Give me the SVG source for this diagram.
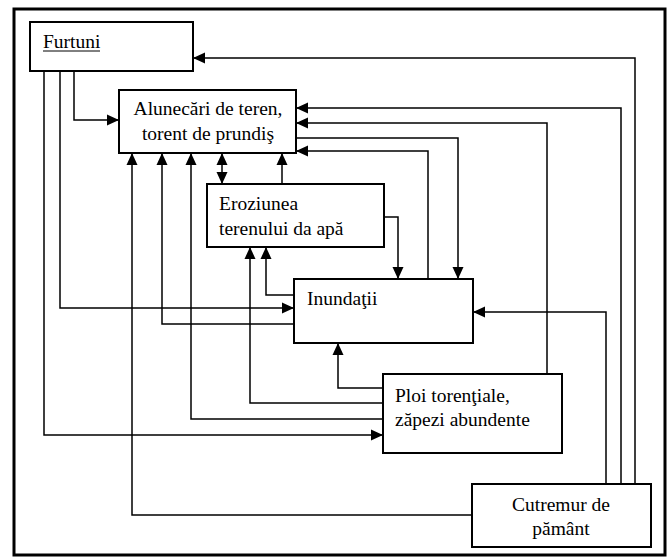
<svg xmlns="http://www.w3.org/2000/svg" width="672" height="560" viewBox="0 0 672 560">
<style>
.box{fill:#fff;stroke:#000;stroke-width:2}
.t{font-family:"Liberation Serif","Times New Roman",serif;font-size:19.5px;fill:#000}
.c{fill:none;stroke:#000;stroke-width:1.5}
.a{marker-end:url(#ah)}
</style>
<defs>
<marker id="ah" markerUnits="userSpaceOnUse" markerWidth="12" markerHeight="12" refX="12" refY="6" orient="auto">
<path d="M0,0.5 L12,6 L0,11.5 z" fill="#000"/>
</marker>
<marker id="as" markerUnits="userSpaceOnUse" markerWidth="12" markerHeight="12" refX="12" refY="6" orient="auto-start-reverse">
<path d="M0,0.5 L12,6 L0,11.5 z" fill="#000"/>
</marker>
</defs>
<rect x="0" y="0" width="672" height="560" fill="#fff"/>
<rect x="14" y="9" width="651" height="546" fill="none" stroke="#000" stroke-width="3"/>
<g id="connectors">
<path class="c a" d="M635,484 V58 H193"/>
<path class="c a" d="M621,484 V108 H296"/>
<path class="c a" d="M547,374 V123 H296"/>
<path class="c a" d="M296,138 H458 V279"/>
<path class="c a" d="M428,279 V151 H296"/>
<path class="c a" d="M282,184 V153"/>
<path class="c" d="M222,153 V184" marker-start="url(#as)" marker-end="url(#as)"/>
<path class="c a" d="M383,419 H191 V153"/>
<path class="c a" d="M294,324 H162 V153"/>
<path class="c a" d="M472,515 H132 V153"/>
<path class="c a" d="M74,71 V120 H119"/>
<path class="c a" d="M60,71 V308 H294"/>
<path class="c a" d="M44,71 V435 H383"/>
<path class="c a" d="M294,295 H266 V247"/>
<path class="c a" d="M383,403 H250 V247"/>
<path class="c a" d="M383,388 H338 V343"/>
<path class="c a" d="M384,217 H398 V279"/>
<path class="c a" d="M606,484 V312 H473"/>
</g>
<g id="furtuni">
<rect class="box" x="30" y="22" width="163" height="49"/>
<text class="t" x="43" y="48">Furtuni</text>
<line x1="43" y1="51" x2="100" y2="51" stroke="#000" stroke-width="1"/>
</g>
<g id="alunecari">
<rect class="box" x="119" y="90" width="177" height="63"/>
<text class="t" x="208" y="115" text-anchor="middle">Alunecări de teren,</text>
<text class="t" x="208" y="140" text-anchor="middle">torent de prundiş</text>
</g>
<g id="eroziunea">
<rect class="box" x="207" y="184" width="177" height="63"/>
<text class="t" x="219" y="210">Eroziunea</text>
<text class="t" x="219" y="235">terenului da apă</text>
</g>
<g id="inundatii">
<rect class="box" x="294" y="279" width="179" height="64"/>
<text class="t" x="307" y="305">Inundaţii</text>
</g>
<g id="ploi">
<rect class="box" x="383" y="374" width="179" height="79"/>
<text class="t" x="395" y="402">Ploi torenţiale,</text>
<text class="t" x="395" y="426">zăpezi abundente</text>
</g>
<g id="cutremur">
<rect class="box" x="472" y="484" width="179" height="63"/>
<text class="t" x="561" y="511" text-anchor="middle">Cutremur de</text>
<text class="t" x="561" y="535" text-anchor="middle">pământ</text>
</g>
</svg>
